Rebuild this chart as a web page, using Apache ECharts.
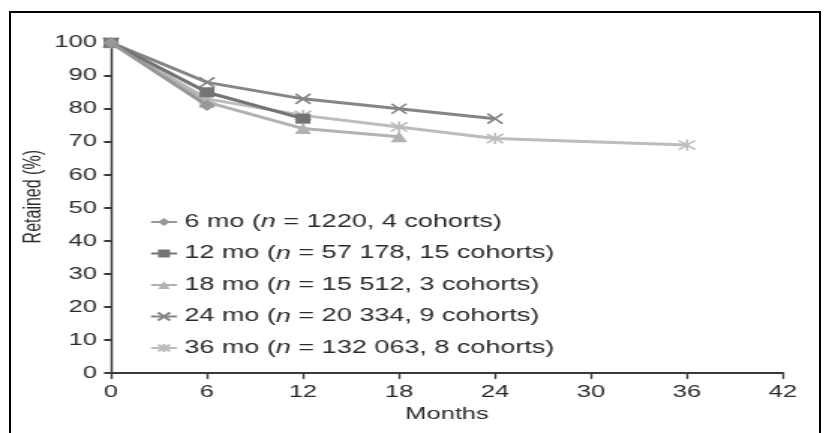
<!DOCTYPE html>
<html>
<head>
<meta charset="utf-8">
<script src="https://cdn.jsdelivr.net/npm/echarts@6/dist/echarts.min.js"></script>
<style>
  html, body { margin:0; padding:0; background:#fff; width:826px; height:433px; overflow:hidden; }
  #frame { position:absolute; left:9px; top:11px; width:812px; height:440px; border:2px solid #000; box-sizing:border-box; }
  #main { position:absolute; left:0; top:0; width:551px; height:433px; transform:scaleX(1.49909); transform-origin:0 0; }
</style>
</head>
<body>
<div id="frame"></div>
<div id="main"></div>
<script>
// ---- data ----
const months = [0, 6, 12, 18, 24, 36];
const seriesNames = [
  '6 mo (n = 1220, 4 cohorts)',
  '12 mo (n = 57 178, 15 cohorts)',
  '18 mo (n = 15 512, 3 cohorts)',
  '24 mo (n = 20 334, 9 cohorts)',
  '36 mo (n = 132 063, 8 cohorts)'
];
const retained6  = [100, 81];
const retained12 = [100, 85, 77];
const retained18 = [100, 82, 74, 71.5];
const retained24 = [100, 88, 83, 80, 77];
const retained36 = [100, 83, 78, 74.5, 71, 69];
const xTickMax = 42, xTickStep = 6;
const yTickMax = 100, yTickStep = 10;
const xTitle = 'Months';
const yTitle = 'Retained (%)';

// ---- styling ----
const S = 826 / 551;                 // horizontal stretch of the picture
const cx = v => v / S;               // real px -> chart px (horizontal)
const FONT = 'Liberation Sans, Arial, sans-serif';

const crossPath = 'path://M0,0L10,10M10,0L0,10';
const starPath  = 'path://M0,1L10,11M10,1L0,11M5,0L5,12';

const styles = [
  { color:'#979797', symbol:'diamond',  size:11 },
  { color:'#747474', symbol:'rect',     size:10 },
  { color:'#b2b2b2', symbol:'triangle', size:11 },
  { color:'#858585', symbol:crossPath,  size:10, stroke:true },
  { color:'#bcbcbc', symbol:starPath,   size:11, stroke:true }
];
const values = [retained6, retained12, retained18, retained24, retained36];

const series = values.map((vals, i) => {
  const st = styles[i];
  return {
    name: seriesNames[i],
    type: 'line',
    data: vals.map((v, k) => [months[k], v]),
    symbol: st.symbol,
    symbolSize: [st.size, st.size],
    showAllSymbol: true,
    lineStyle: { color: st.color, width: 3 },
    itemStyle: st.stroke
      ? { color: st.color, borderColor: st.color, borderWidth: 1.6 }
      : { color: st.color, borderWidth: 0 },
    z: 10 - i,
    animation: false
  };
}).reverse();

const chart = echarts.init(document.getElementById('main'), null, { renderer: 'canvas' });

const gridLeft = cx(111), gridRight = 551 - cx(783), gridTop = 42.7, gridBottom = 433 - 373;

chart.setOption({
  animation: false,
  backgroundColor: 'transparent',
  textStyle: { fontFamily: FONT },
  grid: { left: gridLeft, right: gridRight, top: gridTop, bottom: gridBottom, containLabel: false },
  legend: {
    orient: 'vertical',
    left: cx(142),
    top: 208,
    itemWidth: cx(26),
    itemHeight: 10,
    itemGap: 13.5,
    data: seriesNames.slice(),
    formatter: name => {
      const parts = name.split('(n');
      return '{t|' + parts[0] + '(}{i|n}{t|' + parts[1] + '}';
    },
    textStyle: {
      rich: {
        t: { fontSize: 18, fontFamily: FONT, color: '#2a2a2a', lineHeight: 20 },
        i: { fontSize: 18, fontFamily: FONT, fontStyle: 'italic', color: '#2a2a2a', lineHeight: 20 }
      }
    }
  },
  xAxis: {
    type: 'value',
    min: 0, max: xTickMax, interval: xTickStep,
    splitLine: { show: false },
    axisLine: { lineStyle: { color: '#3a3a3a', width: 2 } },
    axisTick: { show: true, length: 6, lineStyle: { color: '#3a3a3a', width: cx(2) } },
    axisLabel: { fontSize: 17, color: '#2a2a2a', margin: 11, fontFamily: FONT },
    name: xTitle,
    nameLocation: 'middle',
    nameGap: 30,
    nameTextStyle: { fontSize: 17, color: '#2a2a2a', fontFamily: FONT }
  },
  yAxis: {
    type: 'value',
    min: 0, max: yTickMax, interval: yTickStep,
    splitLine: { show: false },
    axisLine: { lineStyle: { color: '#3a3a3a', width: cx(2.2) } },
    axisTick: { show: true, length: cx(7), lineStyle: { color: '#3a3a3a', width: 2 } },
    axisLabel: { fontSize: 17, color: '#2a2a2a', margin: cx(14), fontFamily: FONT }
  },
  graphic: [{
    type: 'text',
    left: cx(22), top: 150,
    rotation: Math.PI / 2,
    style: { text: yTitle, fontSize: 16, fill: '#2a2a2a', fontFamily: FONT }
  }],
  series: series
});
</script>
</body>
</html>
